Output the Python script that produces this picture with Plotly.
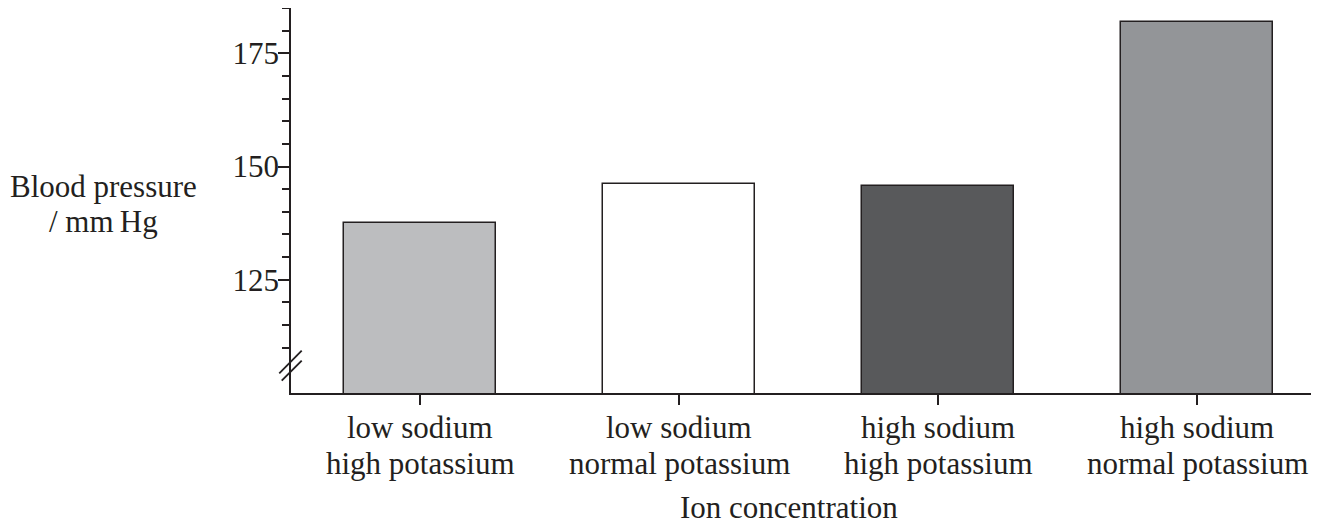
import plotly.graph_objects as go

categories = ["low sodium<br>high potassium", "low sodium<br>normal potassium",
              "high sodium<br>high potassium", "high sodium<br>normal potassium"]
label_line1 = ["low sodium", "low sodium", "high sodium", "high sodium"]
label_line2 = ["high potassium", "normal potassium", "high potassium", "normal potassium"]
values = [137.6, 146.1, 145.7, 181.8]
bar_colors = ["#bcbdbf", "#ffffff", "#58595b", "#939598"]
y_major = [125, 150, 175]
y_minor = [110, 115, 120, 130, 135, 140, 145, 155, 160, 165, 170, 180, 185]

INK = "#231f20"
FONT = "Liberation Serif, Times New Roman, serif"
FS = 31
x_idx = list(range(len(categories)))

fig = go.Figure()
fig.add_trace(go.Bar(
    x=x_idx, y=values, width=0.587,
    marker=dict(color=bar_colors, line=dict(color=INK, width=1.5)),
    base=0,
))

annotations = []
for i in x_idx:
    annotations.append(dict(x=i, xref="x", y=0, yref="paper", yshift=-34, yanchor="middle",
                            text=label_line1[i], showarrow=False,
                            font=dict(family=FONT, size=FS, color=INK)))
    annotations.append(dict(x=i, xref="x", y=0, yref="paper", yshift=-70, yanchor="middle",
                            text=label_line2[i], showarrow=False,
                            font=dict(family=FONT, size=FS, color=INK)))
annotations.append(dict(x=0.488, xref="paper", y=0, yref="paper", yshift=-114, yanchor="middle",
                        text="Ion concentration", showarrow=False,
                        font=dict(family=FONT, size=FS, color=INK)))
annotations.append(dict(x=-0.184, xref="paper", xanchor="center", y=150, yref="y", yshift=-20,
                        yanchor="middle", text="Blood pressure", showarrow=False,
                        font=dict(family=FONT, size=FS, color=INK)))
annotations.append(dict(x=-0.184, xref="paper", xanchor="center", y=150, yref="y", yshift=-55,
                        yanchor="middle", text="/ mm\u2009Hg", showarrow=False,
                        font=dict(family=FONT, size=FS, color=INK)))

shapes = [
    dict(type="line", xref="paper", yref="y", x0=-0.0115, y0=104.35, x1=0.0105, y1=109.34,
         line=dict(color=INK, width=1.8)),
    dict(type="line", xref="paper", yref="y", x0=-0.0091, y0=102.72, x1=0.0105, y1=107.13,
         line=dict(color=INK, width=1.8)),
]

fig.update_layout(
    width=1327, height=526,
    margin=dict(l=283, r=24, t=0, b=141),
    plot_bgcolor="white", paper_bgcolor="white",
    showlegend=False,
    bargap=0,
    annotations=annotations,
    shapes=shapes,
    xaxis=dict(
        range=[-0.5, 3.44], tickmode="array", tickvals=x_idx, ticktext=["", "", "", ""],
        ticks="outside", ticklen=10, tickwidth=1.5, tickcolor=INK,
        showline=True, linecolor=INK, linewidth=1.5, showgrid=False, zeroline=False,
    ),
    yaxis=dict(
        range=[100, 185], tickmode="array", tickvals=y_major,
        ticktext=[str(v) for v in y_major],
        ticks="outside", ticklen=11, tickwidth=1.5, tickcolor=INK,
        tickfont=dict(family=FONT, size=FS, color=INK), ticklabelstandoff=-7,
        minor=dict(tickmode="array", tickvals=y_minor, ticks="outside", ticklen=7,
                   tickwidth=1.5, tickcolor=INK, showgrid=False),
        showline=True, linecolor=INK, linewidth=1.5, showgrid=False, zeroline=False,
    ),
)

fig.write_html("out.html")
